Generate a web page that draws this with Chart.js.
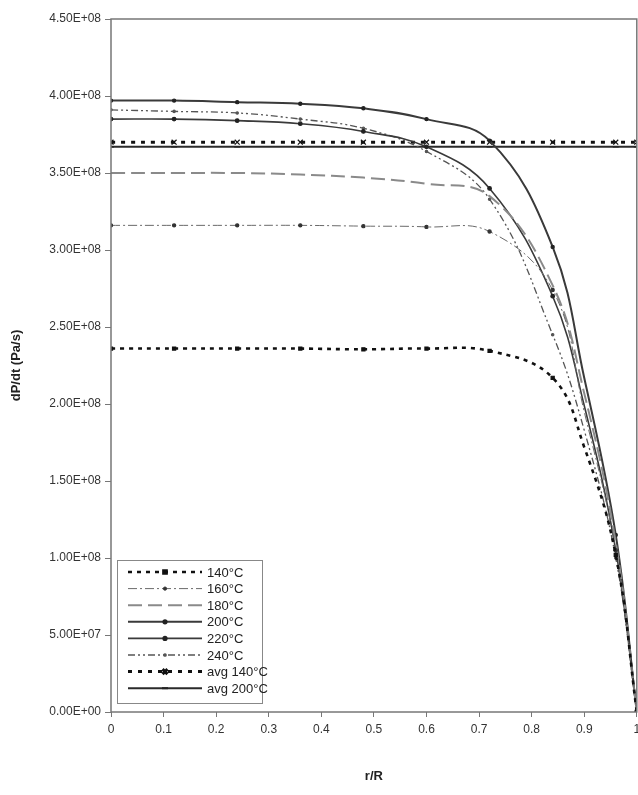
<!DOCTYPE html>
<html><head><meta charset="utf-8">
<script src="https://cdn.jsdelivr.net/npm/chart.js@4.4.1/dist/chart.umd.min.js"></script>
<style>html,body{margin:0;padding:0;background:#fff;overflow:hidden}#wrap{width:638px;height:795px;position:relative;overflow:hidden}</style>
</head><body><div id="wrap"><canvas id="c" width="642" height="795"></canvas></div>
<script>
// ---- data ----
const rR      = [0, 0.12, 0.24, 0.36, 0.48, 0.6, 0.72, 0.84, 0.9, 0.96, 1];
const t140    = [2.36e8, 2.36e8, 2.36e8, 2.36e8, 2.355e8, 2.36e8, 2.345e8, 2.17e8, 1.72e8, 1.02e8, 0];
const t160    = [3.16e8, 3.16e8, 3.16e8, 3.16e8, 3.155e8, 3.15e8, 3.12e8, 2.74e8, 1.95e8, 1.05e8, 0];
const t180    = [3.50e8, 3.50e8, 3.50e8, 3.49e8, 3.47e8, 3.43e8, 3.35e8, 2.77e8, 2.07e8, 1.10e8, 0];
const t200    = [3.97e8, 3.97e8, 3.96e8, 3.95e8, 3.92e8, 3.85e8, 3.71e8, 3.02e8, 2.17e8, 1.15e8, 0];
const t220    = [3.85e8, 3.85e8, 3.84e8, 3.82e8, 3.77e8, 3.67e8, 3.40e8, 2.70e8, 1.99e8, 1.05e8, 0];
const t240    = [3.91e8, 3.90e8, 3.89e8, 3.85e8, 3.79e8, 3.64e8, 3.33e8, 2.45e8, 1.83e8, 1.00e8, 0];
const rAvg    = [0, 0.12, 0.24, 0.36, 0.48, 0.6, 0.72, 0.84, 0.96, 1];
const avg140  = [3.70e8, 3.70e8, 3.70e8, 3.70e8, 3.70e8, 3.70e8, 3.70e8, 3.70e8, 3.70e8, 3.70e8];
const avg200  = [3.67e8, 3.67e8, 3.67e8, 3.67e8, 3.67e8, 3.67e8, 3.67e8, 3.67e8, 3.67e8, 3.67e8];
const seriesLabels = ['140°C', '160°C', '180°C', '200°C', '220°C', '240°C', 'avg 140°C', 'avg 200°C'];
const xTickLabels = ['0', '0.1', '0.2', '0.3', '0.4', '0.5', '0.6', '0.7', '0.8', '0.9', '1'];
const yTickLabels = ['0.00E+00', '5.00E+07', '1.00E+08', '1.50E+08', '2.00E+08', '2.50E+08', '3.00E+08', '3.50E+08', '4.00E+08', '4.50E+08'];
const xTitle = 'r/R';
const yTitle = 'dP/dt (Pa/s)';

// ---- build ----
const pts = (xs, ys) => xs.map((x, i) => ({x: x, y: ys[i]}));
const hideMid = (r) => (ctx) => (ctx.raw && ctx.raw.x === 0.9 ? 0 : r);

const styles = [
  {borderColor: '#111', borderWidth: 2.6, borderDash: [4, 5], pointStyle: 'rect', r: 2.2, pc: '#111'},
  {borderColor: '#6a6a6a', borderWidth: 1, borderDash: [9, 3, 2, 3], pointStyle: 'circle', r: 1.6, pc: '#333'},
  {borderColor: '#8a8a8a', borderWidth: 2, borderDash: [14, 6], pointStyle: 'circle', r: 0, pc: '#888'},
  {borderColor: '#3a3a3a', borderWidth: 2, borderDash: [], pointStyle: 'circle', r: 1.6, pc: '#222'},
  {borderColor: '#3a3a3a', borderWidth: 1.6, borderDash: [], pointStyle: 'circle', r: 1.8, pc: '#222'},
  {borderColor: '#555', borderWidth: 1.3, borderDash: [7, 3, 2, 3, 2, 3], pointStyle: 'circle', r: 1.2, pc: '#555'},
  {borderColor: '#111', borderWidth: 3, borderDash: [4, 6], pointStyle: 'crossRot', r: 3.5, pc: '#111'},
  {borderColor: '#2a2a2a', borderWidth: 2, borderDash: [], pointStyle: 'line', r: 3, pc: '#222'}
];
const seriesData = [pts(rR, t140), pts(rR, t160), pts(rR, t180), pts(rR, t200), pts(rR, t220), pts(rR, t240), pts(rAvg, avg140), pts(rAvg, avg200)];

const datasets = seriesData.map((d, i) => {
  const s = styles[i];
  return {
    label: seriesLabels[i], data: d,
    borderColor: s.borderColor, borderWidth: s.borderWidth, borderDash: s.borderDash,
    backgroundColor: s.pc, pointBackgroundColor: s.pc, pointBorderColor: s.pc,
    pointStyle: s.pointStyle, pointRadius: hideMid(s.r), pointBorderWidth: 1.2,
    tension: 0.4, fill: false, _mr: s.r
  };
});

const frame = {
  id: 'frame',
  afterDatasetsDraw(chart) {
    const a = chart.chartArea, c = chart.ctx;
    c.save(); c.strokeStyle = '#777'; c.lineWidth = 1.5;
    c.strokeRect(a.left, a.top, a.right - a.left, a.bottom - a.top);
    c.restore();
  }
};

const boxLegend = {
  id: 'boxLegend',
  afterDraw(chart) {
    const c = chart.ctx;
    const x0 = 117, y0 = 560, w = 145, h = 143;
    c.save();
    c.fillStyle = '#fff'; c.fillRect(x0, y0, w, h);
    c.strokeStyle = '#888'; c.lineWidth = 1; c.strokeRect(x0 + 0.5, y0 + 0.5, w, h);
    chart.data.datasets.forEach((ds, i) => {
      const y = y0 + 12 + i * 16.6;
      c.setLineDash(ds.borderDash || []);
      c.strokeStyle = ds.borderColor; c.lineWidth = ds.borderWidth;
      c.beginPath(); c.moveTo(x0 + 11, y); c.lineTo(x0 + 85, y); c.stroke();
      c.setLineDash([]);
      if (ds._mr > 0) {
        c.fillStyle = ds.pointBackgroundColor; c.strokeStyle = ds.pointBorderColor;
        Chart.helpers.drawPoint(c, {pointStyle: ds.pointStyle, radius: ds._mr, rotation: 0, borderWidth: 1.2}, x0 + 48, y);
      }
      c.fillStyle = '#222'; c.font = '13px "Liberation Sans", Arial, sans-serif';
      c.textBaseline = 'middle'; c.textAlign = 'left';
      c.fillText(ds.label, x0 + 90, y + 1);
    });
    c.restore();
  }
};

Chart.defaults.font.family = '"Liberation Sans", Arial, sans-serif';
Chart.defaults.color = '#333';

new Chart(document.getElementById('c'), {
  type: 'line',
  data: {datasets: datasets},
  options: {
    responsive: false, animation: false,
    layout: {padding: {left: 0, right: 0, top: 19, bottom: 0}},
    plugins: {legend: {display: false}, tooltip: {enabled: false}},
    scales: {
      x: {
        type: 'linear', min: 0, max: 1,
        border: {display: false},
        grid: {drawOnChartArea: false, drawTicks: true, tickLength: 5, color: '#777', lineWidth: 1},
        ticks: {stepSize: 0.1, font: {size: 12}, color: '#333', padding: 5,
                callback: (v, i) => xTickLabels[i]},
        title: {display: true, text: xTitle, font: {size: 13, weight: 'bold'}, color: '#222', padding: {top: 4, bottom: 11}},
        afterFit(s) { s.paddingLeft = 0; s.paddingRight = 0; s.height = 83; }
      },
      y: {
        type: 'linear', min: 0, max: 4.5e8,
        border: {display: false},
        grid: {drawOnChartArea: false, drawTicks: true, tickLength: 6, color: '#777', lineWidth: 1},
        ticks: {stepSize: 0.5e8, font: {size: 12}, color: '#333', padding: 4,
                callback: (v, i) => yTickLabels[i]},
        title: {display: true, text: yTitle, font: {size: 13, weight: 'bold'}, color: '#222', padding: {top: 9, bottom: 4}},
        afterFit(s) { s.width = 111; s.paddingTop = 0; s.paddingBottom = 0; }
      }
    }
  },
  plugins: [frame, boxLegend]
});
</script>
</body></html>
